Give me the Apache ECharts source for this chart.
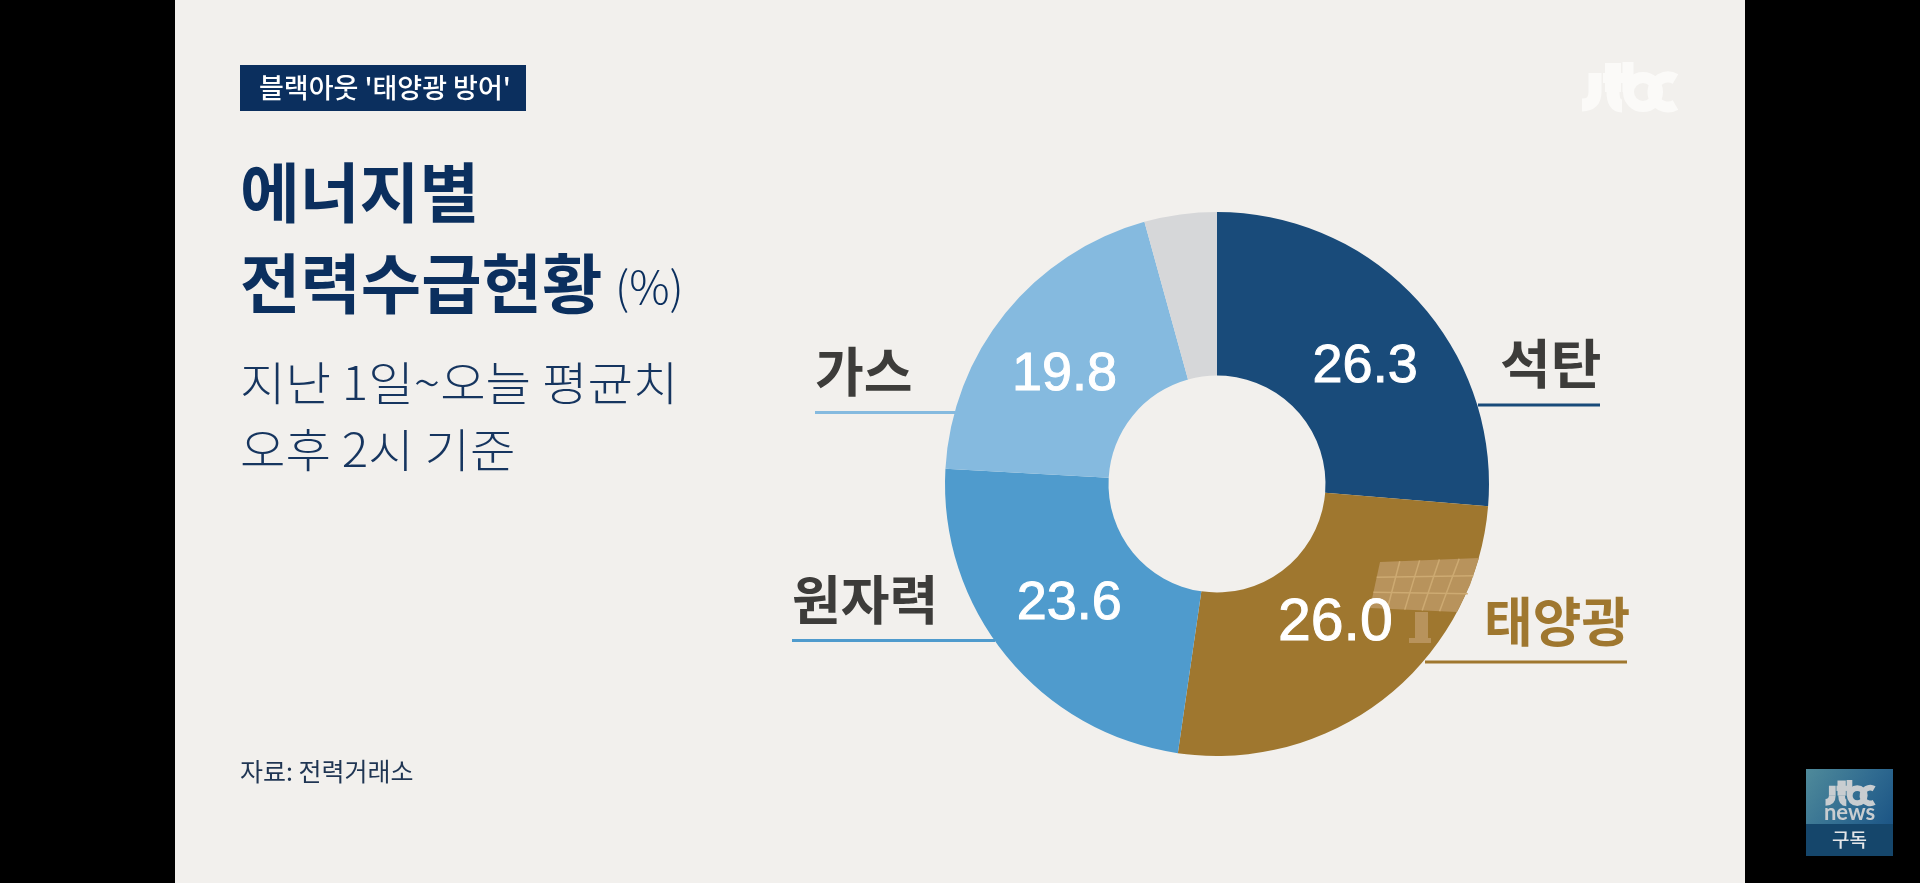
<!DOCTYPE html>
<html><head><meta charset="utf-8">
<style>html,body{margin:0;padding:0;background:#000;width:100%;height:100%;overflow:hidden}#c{width:1920px;height:883px}</style>
<script src="https://cdn.jsdelivr.net/npm/echarts@6/dist/echarts.min.js"></script>
</head><body><div id="c"></div>
<script>
const categories = ['석탄', '태양광', '원자력', '가스', '기타'];
const values = [26.3, 26.0, 23.6, 19.8, 4.3];
const sliceColors = ['#194b7a', '#9f772f', '#4f9bcd', '#85badf', '#d6d7d9'];
const valueLabels = ['26.3', '26.0', '23.6', '19.8', ''];

const KR = '"Noto Sans CJK KR","Noto Sans",sans-serif';
const NAVY = '#0b2f5e';
const chart = echarts.init(document.getElementById('c'), null, {renderer:'canvas'});

function txt(x, y, text, size, weight, fill, align, sx) {
  return {type:'text', z:1, x, y, scaleX:sx||1, style:{x:0, y:0, text, fontFamily:KR, fontSize:size, fontWeight:weight, fill, align:align||'left', verticalAlign:'middle'}};
}
function rule(x1, x2, y, color) {
  return {type:'line', z:1, shape:{x1, y1:y, x2, y2:y}, style:{stroke:color, lineWidth:3}};
}
function logo(x, y, s, color, z) {
  const st = w => ({stroke:color, lineWidth:w, fill:null});
  return {type:'group', x, y, scaleX:s, scaleY:s, z, children:[
    {type:'line', z, shape:{x1:14,y1:11,x2:14,y2:30}, style:st(13)},
    {type:'bezierCurve', z, shape:{x1:14,y1:30,cpx1:14,cpy1:43,x2:1,y2:43}, style:st(13)},
    {type:'line', z, shape:{x1:32,y1:1,x2:32,y2:30}, style:st(16)},
    {type:'bezierCurve', z, shape:{x1:32,y1:30,cpx1:32,cpy1:44,x2:41,y2:44}, style:st(13)},
    {type:'rect', z, shape:{x:22,y:11,width:22,height:10}, style:{fill:color}},
    {type:'line', z, shape:{x1:47,y1:0,x2:47,y2:30}, style:st(11)},
    {type:'circle', z, shape:{cx:62,cy:30,r:14.5}, style:st(11)},
    {type:'arc', z, shape:{cx:87,cy:30,r:15,startAngle:Math.PI/3,endAngle:-Math.PI/3,clockwise:true}, style:st(11)}
  ]};
}
const ICON_Z2 = 3;
const panelLines = [];
const pTop = [[1380,562],[1479,558]], pBot = [[1370,608],[1457,612]];
function lerp(a,b,t){return [a[0]+(b[0]-a[0])*t, a[1]+(b[1]-a[1])*t];}
for (let t of [0.2,0.4,0.6,0.8]) {
  const a = lerp(pTop[0],pTop[1],t), b = lerp(pBot[0],pBot[1],t);
  panelLines.push({type:'line', z:2, z2:ICON_Z2, shape:{x1:a[0],y1:a[1],x2:b[0],y2:b[1]}, style:{stroke:'#cdaa72',lineWidth:1.5}});
}
for (let t of [0.33,0.66]) {
  const a = lerp(pTop[0],pBot[0],t), b = lerp([1479,558],[1462,612],t);
  panelLines.push({type:'line', z:2, z2:ICON_Z2, shape:{x1:a[0],y1:a[1],x2:b[0],y2:b[1]}, style:{stroke:'#cdaa72',lineWidth:1.5}});
}

const graphics = [
  {type:'rect', z:0, shape:{x:175,y:0,width:1570,height:883}, style:{fill:'#f2f0ed'}},
  {type:'rect', z:1, shape:{x:240,y:65,width:286,height:46}, style:{fill:NAVY}},
  txt(259, 88, "블랙아웃 '태양광 방어'", 27, 500, '#ffffff'),
  txt(240, 192, '에너지별', 65, 700, NAVY, 'left', 1.0),
  txt(240, 283, '전력수급현황', 65, 700, NAVY, 'left', 1.01),
  txt(615, 287, '(%)', 45, 300, NAVY),
  txt(240, 383, '지난 1일~오늘 평균치', 46, 300, '#16355f', 'left', 1.074),
  txt(240, 450, '오후 2시 기준', 46, 300, '#16355f', 'left', 1.074),
  txt(240, 771, '자료: 전력거래소', 25, 400, '#1f3553'),
  logo(1581, 62, 1, '#fbfaf8', 1),
  txt(1500, 364, categories[0], 53, 700, '#3d3c3a', 'left', 1.04),
  rule(1478, 1600, 405, sliceColors[0]),
  txt(1484, 622, categories[1], 53, 700, sliceColors[1]),
  rule(1425, 1627, 662, sliceColors[1]),
  txt(792, 600, categories[2], 53, 700, '#3d3c3a'),
  rule(792, 995, 640.5, sliceColors[2]),
  txt(815, 372, categories[3], 53, 700, '#3d3c3a'),
  rule(815, 955, 412.5, sliceColors[3]),
  {type:'polygon', z:2, z2:ICON_Z2, shape:{points:[[1380,562],[1479,558],[1470,585],[1457,612],[1370,608]]}, style:{fill:'#b8935c'}},
  ...panelLines,
  {type:'rect', z:2, z2:ICON_Z2, shape:{x:1415,y:612,width:13,height:28}, style:{fill:'#b8935c'}},
  {type:'rect', z:2, z2:ICON_Z2, shape:{x:1409,y:638,width:22,height:5}, style:{fill:'#b8935c'}},
  {type:'rect', z:1, shape:{x:1806,y:769,width:87,height:55}, style:{fill:new echarts.graphic.LinearGradient(0,0,1,1,[{offset:0,color:'#4f8a9a'},{offset:0.6,color:'#2f6a90'},{offset:1,color:'#1c5585'}])}},
  {type:'rect', z:1, shape:{x:1806,y:824,width:87,height:32}, style:{fill:'#15466b'}},
  logo(1825, 780, 0.52, '#c9cdd0', 2),
  {type:'text', z:2, style:{x:1849.5, y:813, text:'news', fontFamily:'Lato,sans-serif', fontSize:22, fontWeight:700, fill:'#c9cdd0', align:'center', verticalAlign:'middle'}},
  txt(1849.5, 840, '구독', 19, 500, '#e4e6e8', 'center')
];

const labelOffsets = [[6,14],[-2,-11],[2,-2],[-2,12],[0,0]];
const labelSizes = [54, 59, 54, 54, 54];
chart.setOption({
  backgroundColor:'#000000',
  animation:false,
  graphic:{elements:graphics},
  series:[{
    type:'pie', z:2, center:[1217,484], radius:[108.5,272], startAngle:90, clockwise:true,
    silent:true,
    labelLine:{show:false},
    data:categories.map((name,i)=>({
      name, value:values[i],
      itemStyle:{color:sliceColors[i]},
      label:{show:!!valueLabels[i], position:'inside', formatter:valueLabels[i]||' ', offset:labelOffsets[i],
        fontFamily:'"Liberation Sans",Arial,sans-serif', fontSize:labelSizes[i], color:'#ffffff', textBorderColor:'#ffffff', textBorderWidth:1}
    }))
  }]
});
</script></body></html>
